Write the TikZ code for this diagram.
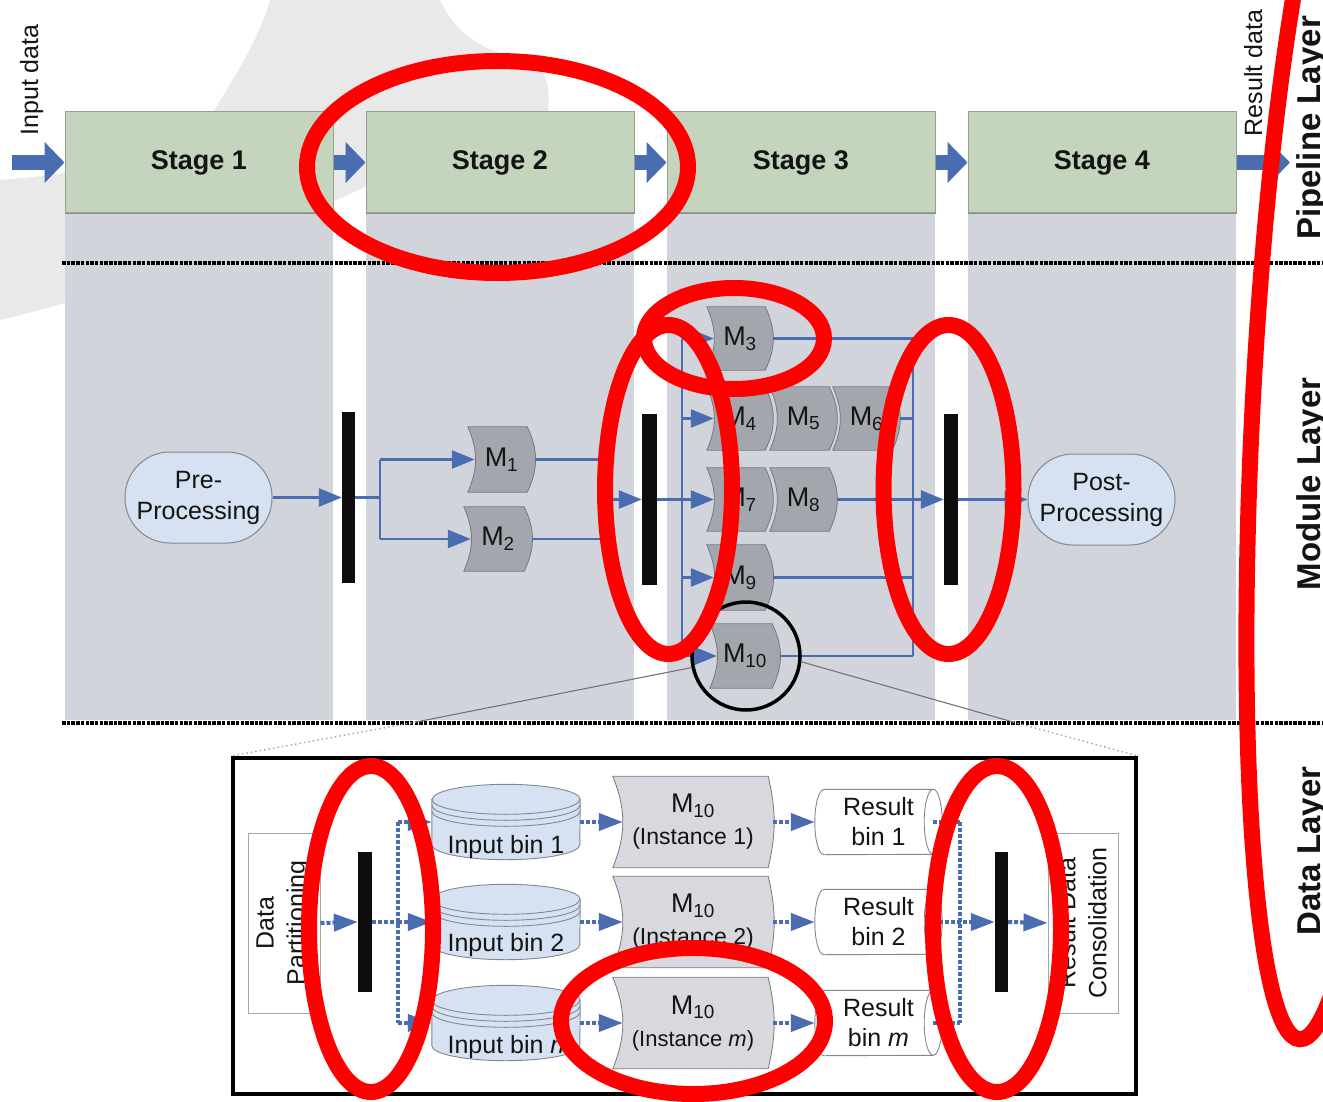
\documentclass[tikz,border=0pt]{standalone}
\usepackage{fontspec}
\setmainfont{Liberation Sans}
\usetikzlibrary{arrows.meta,calc}
\pgfdeclarelayer{bg}
\pgfdeclarelayer{mid}
\pgfdeclarelayer{top}
\pgfsetlayers{bg,mid,main,top}
\definecolor{bgblob}{RGB}{233,233,233}
\definecolor{colgray}{RGB}{209,213,219}
\definecolor{stagegreen}{RGB}{196,212,189}
\definecolor{stageline}{RGB}{150,160,145}
\definecolor{flowblue}{RGB}{74,108,176}
\definecolor{modgray}{RGB}{163,166,173}
\definecolor{modline}{RGB}{118,120,126}
\definecolor{instgray}{RGB}{216,217,222}
\definecolor{binblue}{RGB}{214,226,242}
\definecolor{binline}{RGB}{130,135,145}
\definecolor{textdark}{RGB}{20,20,20}
\definecolor{barblack}{RGB}{13,13,13}
\definecolor{annred}{RGB}{255,0,0}
\newcommand\fs[2]{\fontsize{#1}{#2}\selectfont}
% module outline: node, right inset, right bend, left bend, style
\newcommand\modout[5]{\draw[#5] (#1.north west) -- ($(#1.north east)+(-#2,0)$) to[bend left=#3] ($(#1.south east)+(-#2,0)$) -- (#1.south west) to[bend right=#4] (#1.north west) -- cycle;}
\newcommand\cylout[1]{%
  \draw[binshape] ($(#1.north west)+(0,15)$) -- ($(#1.south west)+(0,-15)$) arc[start angle=180,end angle=360,x radius=74pt,y radius=15pt] -- ($(#1.north east)+(0,15)$) arc[start angle=0,end angle=180,x radius=74pt,y radius=15pt] -- cycle;
  \draw[binrim] ($(#1.north west)+(0,15)$) arc[start angle=180,end angle=360,x radius=74pt,y radius=15pt];
  \draw[binrim] ($(#1.north west)+(0,21)$) arc[start angle=180,end angle=360,x radius=74pt,y radius=15pt];
  \draw[binrim] ($(#1.north west)+(0,27)$) arc[start angle=180,end angle=360,x radius=74pt,y radius=15pt];}
\newcommand\resout[1]{%
  \draw[resshape] ($(#1.north west)+(9,0)$) -- ($(#1.north east)+(-9,0)$) arc[start angle=90,end angle=-90,x radius=9pt,y radius=32.5pt] -- ($(#1.south west)+(9,0)$) arc[start angle=270,end angle=90,x radius=9pt,y radius=32.5pt] -- cycle;
  \draw[binrim] ($(#1.north east)+(-9,0)$) arc[start angle=90,end angle=270,x radius=9pt,y radius=32.5pt];}
\begin{document}
\begin{tikzpicture}[x=1pt,y=-1pt,
  stagebox/.style={draw=stageline,line width=1pt,fill=stagegreen,minimum width=268pt,minimum height=101pt,inner sep=0,font=\fs{27}{30}\bfseries,text=textdark},
  blockarrow/.style={draw=flowblue,line width=15pt,-{Triangle[length=20pt,width=40pt]}},
  flow/.style={draw=flowblue,line width=2.6pt},
  flowarrow/.style={flow,-{Triangle[length=23pt,width=18pt]}},
  dotflow/.style={draw=flowblue,line width=4pt,dash pattern=on 4pt off 2pt},
  dotarrow/.style={dotflow,-{Triangle[length=24pt,width=17pt]}},
  procbox/.style={fill=binblue,draw=binline,line width=1pt,rounded corners=45pt,minimum width=147pt,minimum height=91pt,align=center,font=\fs{25}{31},text=textdark,inner sep=0},
  syncbar/.style={fill=barblack,draw=none,inner sep=0,minimum width=14pt,minimum height=171pt},
  modnode/.style={inner sep=0,minimum width=66pt,minimum height=63pt,font=\fs{27}{30},text=textdark},
  instnode/.style={inner sep=0,minimum width=160pt,minimum height=91pt,align=center,font=\fs{27}{32},text=textdark},
  binnode/.style={inner sep=0,minimum width=148pt,minimum height=75pt},
  bintext/.style={anchor=base,font=\fs{25}{30},text=textdark,inner sep=0},
  resnode/.style={inner sep=0,minimum width=127pt,minimum height=65pt,align=center,font=\fs{25}{30},text=textdark},
  thinbox/.style={draw=black!35,line width=1pt,fill=white,inner sep=0},
  boxtext/.style={rotate=90,align=center,font=\fs{25}{31},text=textdark,inner sep=0},
  layerlabel/.style={rotate=90,anchor=base,font=\fs{33}{33}\bfseries,text=textdark,inner sep=0},
  datalabel/.style={rotate=90,anchor=base,font=\fs{25}{25},text=textdark,inner sep=0},
  sepline/.style={draw=black,line width=3.5pt,dash pattern=on 3.5pt off 1.2pt},
  modfill/.style={fill=modgray,draw=modline,line width=0.8pt},
  instfill/.style={fill=instgray,draw=modline,line width=0.8pt},
  binshape/.style={fill=binblue,draw=binline,line width=0.9pt},
  binrim/.style={draw=binline,line width=0.9pt},
  resshape/.style={fill=white,draw=binline,line width=0.9pt},
  zoomline/.style={draw=black!55,line width=1.1pt},
  zoomdots/.style={draw=black!35,line width=1.4pt,dash pattern=on 1.5pt off 3pt},
  annot/.style={draw=annred,line width=16pt}]
\useasboundingbox (0,0) rectangle (1323,1102);

% ---------- background ----------
\begin{pgfonlayer}{bg}
\fill[bgblob] (270,0) -- (440,0) .. controls (462,48) and (505,55) .. (532,63)
  .. controls (548,70) and (550,92) .. (548,112) -- (560,150)
  .. controls (470,160) and (395,170) .. (365,187)
  .. controls (240,245) and (120,285) .. (65,303)
  .. controls (40,310) and (18,316) .. (0,320) -- (0,180)
  .. controls (25,178) and (45,176) .. (63,173)
  .. controls (140,160) and (195,140) .. (213,112)
  .. controls (240,70) and (262,30) .. (270,0) -- cycle;
\foreach \x in {65,366,667,968} \fill[colgray] (\x,112) rectangle ++(268,608);
\node[draw=black,line width=4pt,fill=white,minimum width=903pt,minimum height=336pt,inner sep=0] (inset) at (684.5,926) {};
\end{pgfonlayer}

% ---------- pipeline layer ----------
\node[stagebox] (s1) at (199,162.5) {Stage 1};
\node[stagebox] (s2) at (500,162.5) {Stage 2};
\node[stagebox] (s3) at (801,162.5) {Stage 3};
\node[stagebox] (s4) at (1102,162.5) {Stage 4};
\draw[black!45,line width=1.5pt] (s1.south west) -- (s1.south east);
\draw[black!45,line width=1.5pt] (s2.south west) -- (s2.south east);
\draw[black!45,line width=1.5pt] (s3.south west) -- (s3.south east);
\draw[black!45,line width=1.5pt] (s4.south west) -- (s4.south east);
\coordinate (inA) at (12,162.5);
\coordinate (outA) at (1290,162.5);
\draw[blockarrow] (inA) -- (s1.west);
\draw[blockarrow] (s1.east) -- (s2.west);
\draw[blockarrow] (s2.east) -- (s3.west);
\draw[blockarrow] (s3.east) -- (s4.west);
\draw[blockarrow] (s4.east) -- (outA);
\node[datalabel] (inlbl) at (38,80) {Input data};
\node[datalabel] (outlbl) at (1262,73) {Result data};
\node[layerlabel] (pl) at (1320,128) {Pipeline Layer};
\node[layerlabel] (ml) at (1320,484) {Module Layer};
\node[layerlabel] (dl) at (1320,851) {Data Layer};

\coordinate (sa1) at (62,263); \coordinate (sa2) at (1323,263);
\coordinate (sb1) at (62,723); \coordinate (sb2) at (1323,723);
\draw[sepline] (sa1) -- (sa2);
\draw[sepline] (sb1) -- (sb2);

% ---------- module layer ----------
\node[procbox] (pre) at (198.5,497.5) {Pre-\\Processing};
\node[procbox] (post) at (1101.5,499.5) {Post-\\Processing};
\node[syncbar,minimum width=13pt] (b1) at (348.5,497.5) {};
\node[syncbar,minimum width=15pt] (b2) at (649.5,499.5) {};
\node[syncbar] (b3) at (951,499.5) {};

\node[modnode,minimum width=67pt,minimum height=65pt] (m1) at (501.5,459.5) {M\textsubscript{1}};
\node[modnode,minimum width=68pt,minimum height=64pt] (m2) at (498,539) {M\textsubscript{2}};
\node[modnode] (m3) at (740,338.5) {M\textsubscript{3}};
\node[modnode] (m4) at (740,418.5) {M\textsubscript{4}};
\node[modnode,minimum width=67pt] (m5) at (803.5,418.5) {M\textsubscript{5}};
\node[modnode,minimum width=67pt] (m6) at (866.5,418.5) {M\textsubscript{6}};
\node[modnode] (m7) at (740,499.5) {M\textsubscript{7}};
\node[modnode,minimum width=67pt] (m8) at (803.5,499.5) {M\textsubscript{8}};
\node[modnode,minimum height=65pt] (m9) at (740,577.5) {M\textsubscript{9}};
\node[modnode,minimum width=70pt,minimum height=64pt] (m10) at (745,656) {M\textsubscript{10}};

\begin{pgfonlayer}{mid}
\modout{m1}{8}{26}{24}{modfill}
\modout{m2}{8}{26}{24}{modfill}
\modout{m3}{8}{26}{24}{modfill}
\modout{m4}{8}{26}{24}{modfill}
\modout{m5}{8}{26}{24}{modfill}
\modout{m6}{8}{26}{24}{modfill}
\modout{m7}{8}{26}{24}{modfill}
\modout{m8}{8}{26}{24}{modfill}
\modout{m9}{8}{26}{24}{modfill}
\modout{m10}{8}{26}{24}{modfill}
\end{pgfonlayer}

% stage 1/2 connectors
\draw[flowarrow] (pre.east) -- (b1.west);
\coordinate (j1) at (380,497.5);
\draw[flow] (b1.east) -- (j1);
\draw[flow] (j1 |- m1.west) -- (j1 |- m2.west);
\draw[flowarrow] (j1 |- m1.west) -- ($(m1.west)+(7,0)$);
\draw[flowarrow] (j1 |- m2.west) -- ($(m2.west)+(7,0)$);
\coordinate (j2) at (605,499.5);
\draw[flow] (m1.east) -- (j2 |- m1.east) -- (j2 |- m2.east) -- (m2.east);
\draw[flowarrow] (j2) -- (b2.west);

% stage 3 connectors
\coordinate (lbt) at (682,338.5);
\coordinate (lbb) at (682,656);
\draw[flow] (lbt) -- (lbb);
\draw[flowarrow] (lbt) -- ($(m3.west)+(7,0)$);
\draw[flowarrow] (lbt |- m4.west) -- ($(m4.west)+(7,0)$);
\draw[flowarrow] (b2.east) -- ($(m7.west)+(7,0)$);
\draw[flowarrow] (lbt |- m9.west) -- ($(m9.west)+(7,0)$);
\draw[flowarrow] (lbb) -- ($(m10.west)+(7,0)$);
\coordinate (rbt) at (913,338.5);
\coordinate (rbb) at (913,656);
\draw[flow] (rbt) -- (rbb);
\draw[flow] (m3.east) -- (rbt);
\draw[flow] (m6.east) -- (rbt |- m6.east);
\draw[flow] (m9.east) -- (rbt |- m9.east);
\draw[flow] (m10.east) -- (rbb);
\draw[flowarrow] (m8.east) -- (b3.west);
\draw[flowarrow] (b3.east) -- (post.west);

% magnifier
\node[draw=black,line width=3.5pt,circle,minimum size=108pt,inner sep=0] (zc) at (746,656) {};
\coordinate (zl) at (416,722);
\coordinate (zr) at (1013,722);
\draw[zoomline] (zc.192) -- (zl);
\draw[zoomdots] (zl) -- (inset.north west);
\draw[zoomline] (zc.354) -- (zr);
\draw[zoomdots] (zr) -- (inset.north east);

% ---------- data layer ----------
\node[thinbox,minimum width=72pt,minimum height=180pt] (dpb) at (284,923) {};
\node[boxtext] (dpt) at (283,923) {Data\\Partitioning};
\node[thinbox,minimum width=70pt,minimum height=180pt] (rcb) at (1083,923) {};
\node[boxtext] (rct) at (1082,923) {Result Data\\Consolidation};
\node[syncbar,minimum height=140pt] (b4) at (365,922) {};
\node[syncbar,minimum width=13pt,minimum height=140pt] (b5) at (1001.5,922) {};

\node[binnode] (ib1) at (506,822) {};
\node[binnode] (ib2) at (506,922) {};
\node[binnode] (ibn) at (506,1023) {};
\begin{pgfonlayer}{mid}
\cylout{ib1}
\cylout{ib2}
\cylout{ibn}
\end{pgfonlayer}
\node[bintext] (ib1t) at (506,853) {Input bin 1};
\node[bintext] (ib2t) at (506,951) {Input bin 2};
\node[bintext] (ibnt) at (506,1053) {Input bin \textit{n}};

\node[instnode] (mi1) at (693,822) {M\textsubscript{10}\\{\fs{23}{32}(Instance 1)}};
\node[instnode] (mi2) at (693,922) {M\textsubscript{10}\\{\fs{23}{32}(Instance 2)}};
\node[instnode] (mim) at (693,1023) {M\textsubscript{10}\\{\fs{22}{32}(Instance \textit{m})}};
\begin{pgfonlayer}{mid}
\modout{mi1}{5}{13}{22}{instfill}
\modout{mi2}{5}{13}{22}{instfill}
\modout{mim}{5}{13}{22}{instfill}
\end{pgfonlayer}

\node[resnode] (rb1) at (878.5,822) {Result\\bin 1};
\node[resnode] (rb2) at (878.5,922) {Result\\bin 2};
\node[resnode] (rbm) at (878.5,1023) {Result\\bin \textit{m}};
\begin{pgfonlayer}{mid}
\resout{rb1}
\resout{rb2}
\resout{rbm}
\end{pgfonlayer}

\draw[dotarrow] (dpb.east) -- (b4.west);
\coordinate (dlb) at (398,922);
\draw[dotflow] (b4.east) -- (dlb);
\draw[dotflow] (dlb |- ib1.west) -- (dlb |- ibn.west);
\draw[dotarrow] (dlb |- ib1.west) -- (ib1.west);
\draw[dotarrow] (dlb) -- (ib2.west);
\draw[dotarrow] (dlb |- ibn.west) -- (ibn.west);
\draw[dotarrow] (ib1.east) -- ($(mi1.west)+(10,0)$);
\draw[dotarrow] (ib2.east) -- ($(mi2.west)+(10,0)$);
\draw[dotarrow] (ibn.east) -- ($(mim.west)+(10,0)$);
\draw[dotarrow] (mi1.east) -- (rb1.west);
\draw[dotarrow] (mi2.east) -- (rb2.west);
\draw[dotarrow] (mim.east) -- (rbm.west);
\coordinate (drb) at (960,922);
\draw[dotflow] (drb |- rb1.east) -- (drb |- rbm.east);
\draw[dotflow] ($(rb1.east)+(-9,0)$) -- (drb |- rb1.east);
\draw[dotflow] ($(rbm.east)+(-9,0)$) -- (drb |- rbm.east);
\draw[dotarrow] ($(rb2.east)+(-9,0)$) -- (b5.west);
\draw[dotarrow] (b5.east) -- (rcb.west);

% ---------- red annotations ----------
\begin{pgfonlayer}{top}
\draw[annot] (497.5,167) ellipse [x radius=190.5pt,y radius=106pt];
\draw[annot] (734,338.5) ellipse [x radius=90pt,y radius=50.5pt];
\draw[annot] (668.5,489.5) ellipse [x radius=63.5pt,y radius=164.5pt];
\draw[annot] (948.5,489.5) ellipse [x radius=65pt,y radius=164.5pt];
\draw[annot] (371,929) ellipse [x radius=62pt,y radius=163pt];
\draw[annot] (997,929) ellipse [x radius=64pt,y radius=163pt];
\draw[annot] (693,1021) ellipse [x radius=132pt,y radius=73pt];
\draw[annot,rotate around={-2.8:(1330,420)}] (1330,420) ellipse [x radius=78pt,y radius=620pt];
\end{pgfonlayer}
\end{tikzpicture}
\end{document}
